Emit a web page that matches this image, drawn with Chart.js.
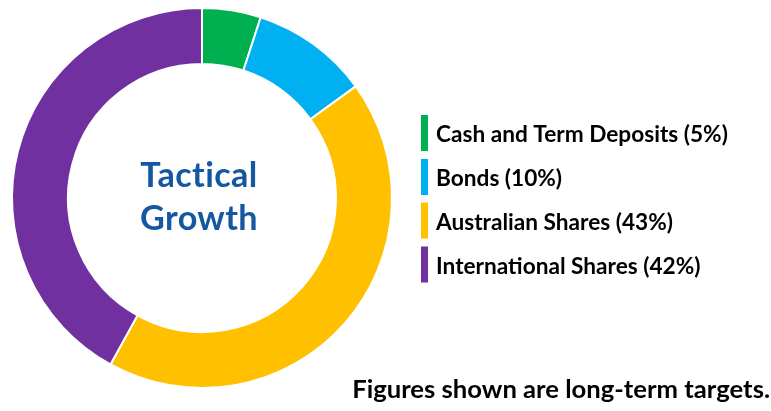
<!DOCTYPE html>
<html>
<head>
<meta charset="utf-8">
<script src="https://cdn.jsdelivr.net/npm/chart.js@4.4.1/dist/chart.umd.min.js"></script>
<style>
  html, body { margin: 0; padding: 0; background: #fff; }
  #wrap { width: 771px; height: 411px; }
</style>
</head>
<body>
<div id="wrap"><canvas id="mix" width="771" height="411"></canvas></div>
<script>
// asset mix - tactical growth portfolio
var labels = ['Cash and Term Deposits', 'Bonds', 'Australian Shares', 'International Shares'];
var values = [5, 10, 43, 42];
var colours = ['#00B050', '#00B0F0', '#FFC000', '#7030A0'];
var centreLines = ['Tactical', 'Growth'];
var footnote = 'Figures shown are long-term targets.';

var FONT = "Lato, 'Open Sans', sans-serif";

// shrink/grow the bold font until the text is about as wide as in the original
function fitSize(ctx, text, width) {
    var size = 40;
    ctx.font = 'bold ' + size + 'px ' + FONT;
    var w = ctx.measureText(text).width;
    return size * width / w;
}

var extras = {
    id: 'extras',
    afterDraw: function (chart) {
        var ctx = chart.ctx;
        var area = chart.chartArea;
        var cx = (area.left + area.right) / 2;
        ctx.save();
        ctx.textAlign = 'center';
        ctx.textBaseline = 'alphabetic';
        // a bit of letter spacing also stops Lato's "ct" ligature
        ctx.letterSpacing = '0.4px';

        // centre title
        var s = fitSize(ctx, centreLines[0], 117);
        ctx.font = 'bold ' + s + 'px ' + FONT;
        ctx.fillStyle = '#1558A2';
        ctx.fillText(centreLines[0], cx - 3, 187);
        ctx.fillText(centreLines[1], cx - 3, 230);
        ctx.letterSpacing = '0px';

        // legend
        ctx.textAlign = 'left';
        var texts = labels.map(function (l, i) { return l + ' (' + values[i] + '%)'; });
        var ls = fitSize(ctx, texts[0], 292);
        ctx.font = 'bold ' + ls + 'px ' + FONT;
        var rowY = [133, 177, 220.5, 264.5];
        for (var i = 0; i < texts.length; i++) {
            ctx.fillStyle = colours[i];
            ctx.fillRect(421, rowY[i] - 18, 7, 36);
            ctx.fillStyle = '#000';
            ctx.fillText(texts[i], 436, rowY[i] + 9);
        }

        // footnote
        var fs = fitSize(ctx, footnote, 418);
        ctx.font = 'bold ' + fs + 'px ' + FONT;
        ctx.textAlign = 'right';
        ctx.fillText(footnote, 770, 398);
        ctx.restore();
    }
};

new Chart(document.getElementById('mix'), {
    type: 'doughnut',
    data: {
        labels: labels,
        datasets: [{
            data: values,
            backgroundColor: colours,
            borderColor: '#ffffff',
            borderWidth: 2,
            hoverOffset: 0
        }]
    },
    options: {
        responsive: false,
        animation: false,
        cutout: 134,
        layout: { padding: { left: 11, top: 7, right: 378, bottom: 22 } },
        plugins: {
            legend: { display: false },
            tooltip: { enabled: false }
        }
    },
    plugins: [extras]
});
</script>
</body>
</html>
